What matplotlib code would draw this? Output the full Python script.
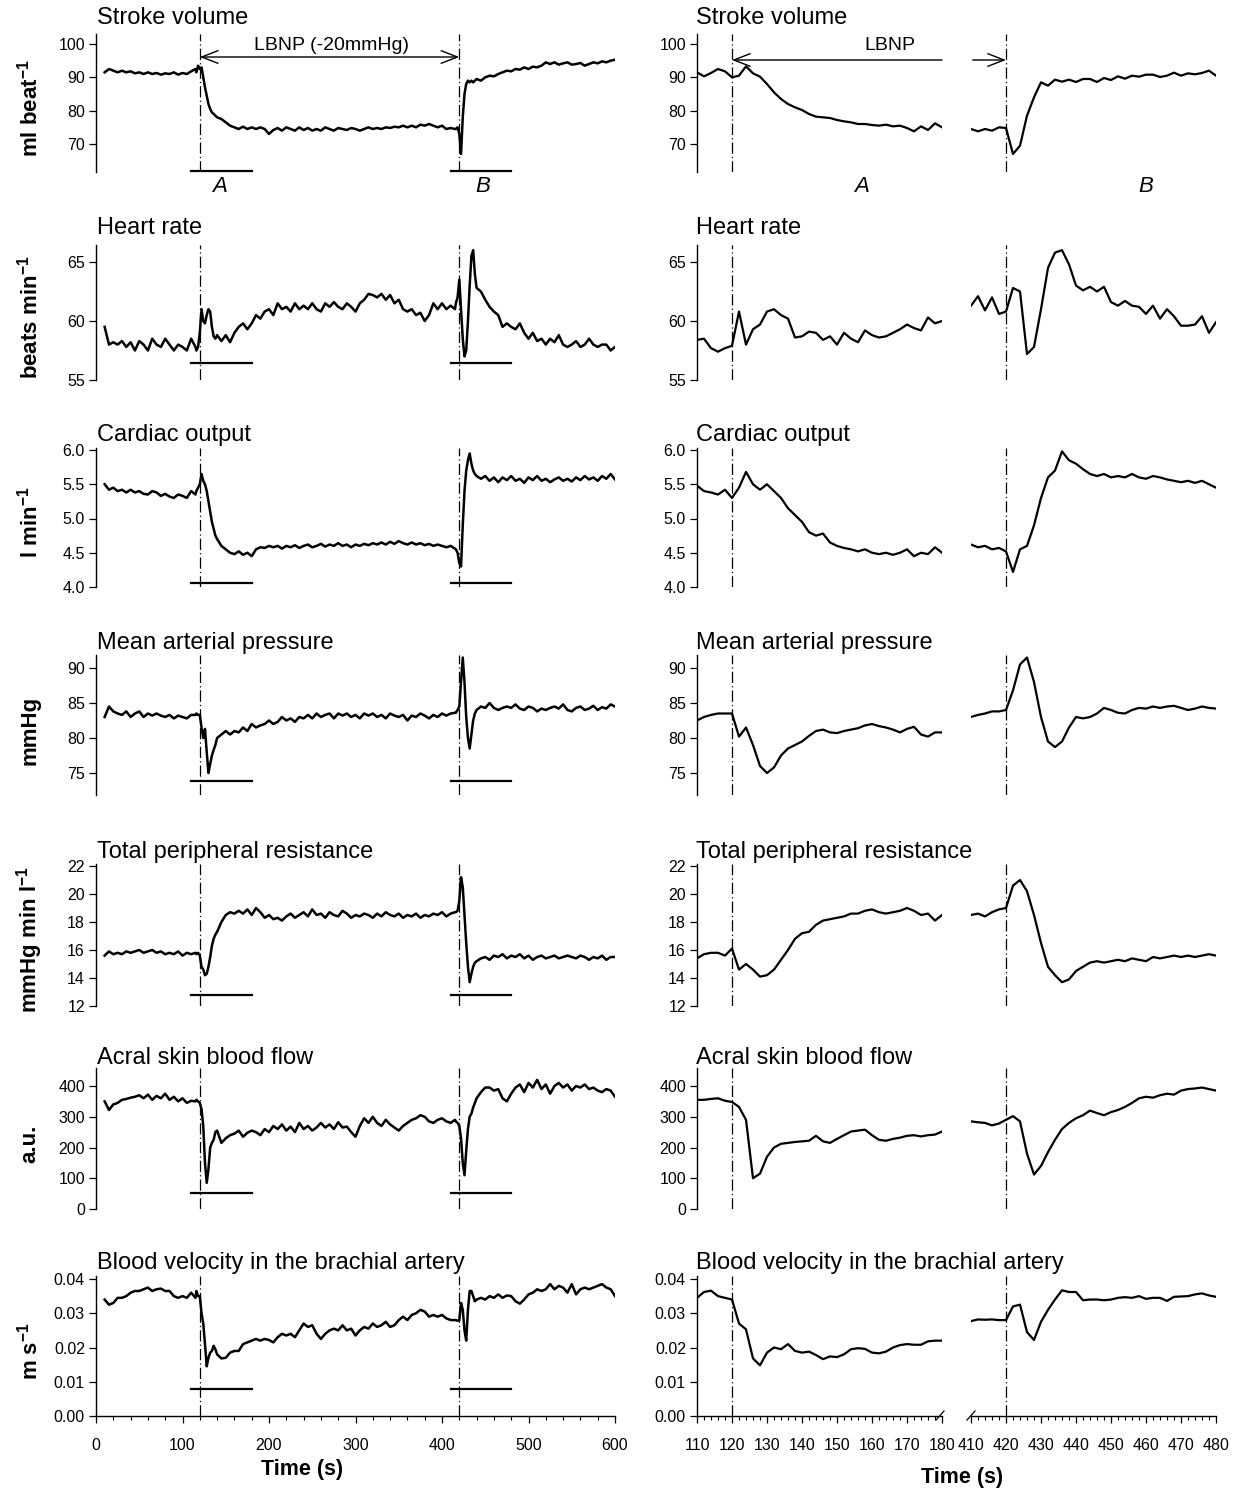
import numpy as np
import matplotlib
matplotlib.use('Agg')
import matplotlib.pyplot as plt
from matplotlib.lines import Line2D

plt.rcParams['font.family'] = ['Liberation Sans', 'DejaVu Sans']
plt.rcParams['mathtext.fontset'] = 'custom'
plt.rcParams['mathtext.rm'] = 'Liberation Sans'
plt.rcParams['mathtext.bf'] = 'Liberation Sans:bold'

# ---------------- sample times ----------------
T_LEFT = np.concatenate([np.arange(10, 116, 5), np.arange(116, 141, 2),
                         np.arange(145, 416, 5), np.arange(416, 441, 2),
                         np.arange(445, 601, 5)])
T_A = np.arange(110, 181, 2)
T_B = np.arange(410, 481, 2)

# ---------------- left column (whole protocol) ----------------
sv_left = [
    [91.5, 92.5, 92.0, 91.5, 92.0, 91.5, 91.8, 91.2, 91.5, 91.0, 91.5, 91.0, 91.3, 90.8, 91.2, 91.0, 91.5, 90.8, 91.3, 91.0, 91.8, 92.5],
    [91.5, 93.5, 92.5, 93.0, 90.0, 87.0, 84.5, 82.0, 80.5, 79.5, 79.0, 78.5, 78.0],
    [77.5, 76.5, 75.5, 75.0, 74.5, 75.2, 74.5, 75.0, 74.5, 75.0, 74.5, 73.0, 74.2, 74.8, 74.0,
     75.0, 74.5, 74.0, 75.0, 74.2, 74.8, 74.0, 74.5, 74.0, 75.0, 74.5, 74.0, 74.8, 74.5, 74.2,
     74.8, 74.5, 74.0, 74.5, 75.0, 74.5, 74.8, 74.5, 75.0, 74.8, 75.2, 75.0, 75.5, 75.0, 75.5,
     75.0, 75.8, 75.5, 76.0, 75.5, 75.0, 75.5, 74.5, 74.8, 74.5],
    [74.5, 75.0, 73.0, 67.0, 78.0, 85.0, 88.0, 89.0, 88.5, 89.0, 88.5, 89.0, 89.5],
    [89.0, 90.0, 90.5, 90.3, 91.0, 91.5, 92.0, 91.8, 92.5, 92.3, 93.0, 92.5, 93.2, 93.0, 93.5, 94.5,
     94.0, 94.5, 93.8, 94.2, 94.5, 93.8, 94.0, 94.3, 93.5, 94.0, 94.5, 94.2, 94.8, 94.5, 95.0, 95.3],
]
hr_left = [
    [59.5, 58.0, 58.2, 58.0, 58.3, 57.8, 58.2, 57.5, 58.3, 58.0, 57.5, 58.5, 58.0, 57.8, 58.5, 58.0, 57.5, 58.0, 57.8, 57.5, 58.5, 57.8],
    [57.5, 57.8, 59.0, 61.0, 60.0, 59.8, 60.5, 61.0, 60.8, 59.5, 58.7, 58.5, 58.8],
    [58.3, 58.8, 58.2, 59.0, 59.5, 59.8, 59.3, 59.8, 60.5, 60.2, 60.8, 61.0, 60.5, 61.5, 61.0,
     61.2, 60.8, 61.5, 61.0, 61.3, 61.0, 61.5, 61.0, 60.8, 61.5, 61.2, 61.6, 61.2, 61.0, 61.5,
     61.2, 60.8, 61.5, 61.8, 62.3, 62.2, 62.0, 62.3, 61.8, 62.2, 61.5, 61.8, 61.0, 60.8, 61.0,
     60.5, 60.7, 60.0, 60.5, 61.5, 61.0, 61.5, 61.0, 61.3, 61.0],
    [61.5, 62.0, 63.5, 61.0, 58.5, 57.0, 57.5, 60.0, 63.0, 65.5, 66.0, 64.0, 62.8],
    [62.5, 61.8, 61.2, 60.8, 60.5, 59.5, 59.8, 59.5, 59.3, 59.8, 59.0, 58.5, 59.0, 58.3, 58.5, 58.0,
     58.5, 58.2, 58.8, 58.0, 57.8, 58.0, 58.3, 57.8, 58.0, 58.5, 58.0, 57.8, 58.0, 58.0, 57.5, 57.8],
]
co_left = [
    [5.50, 5.42, 5.45, 5.40, 5.42, 5.38, 5.42, 5.38, 5.40, 5.36, 5.35, 5.40, 5.38, 5.33, 5.36, 5.32, 5.30, 5.35, 5.33, 5.30, 5.40, 5.35],
    [5.40, 5.45, 5.50, 5.65, 5.55, 5.50, 5.40, 5.25, 5.10, 4.95, 4.85, 4.75, 4.70],
    [4.60, 4.55, 4.50, 4.48, 4.52, 4.47, 4.50, 4.45, 4.55, 4.58, 4.57, 4.60, 4.58, 4.60, 4.56,
     4.60, 4.58, 4.61, 4.57, 4.60, 4.62, 4.58, 4.60, 4.63, 4.59, 4.62, 4.60, 4.64, 4.60, 4.62,
     4.58, 4.62, 4.60, 4.63, 4.61, 4.64, 4.62, 4.65, 4.62, 4.66, 4.63, 4.67, 4.64, 4.62, 4.65,
     4.62, 4.64, 4.61, 4.63, 4.60, 4.62, 4.60, 4.58, 4.60, 4.56],
    [4.55, 4.50, 4.35, 4.30, 4.90, 5.40, 5.70, 5.85, 5.95, 5.80, 5.70, 5.65, 5.62],
    [5.58, 5.62, 5.55, 5.60, 5.53, 5.60, 5.56, 5.62, 5.55, 5.58, 5.52, 5.60, 5.56, 5.62, 5.55, 5.58,
     5.53, 5.57, 5.60, 5.55, 5.58, 5.54, 5.60, 5.56, 5.62, 5.57, 5.60, 5.55, 5.62, 5.58, 5.65, 5.57],
]
map_left = [
    [83.0, 84.5, 83.8, 83.5, 83.3, 83.8, 83.0, 83.5, 83.8, 83.0, 83.5, 83.2, 83.5, 83.2, 83.0, 83.3, 82.8, 83.2, 83.0, 82.8, 83.3, 83.3],
    [83.5, 83.3, 83.3, 81.5, 80.0, 81.3, 78.0, 75.0, 76.3, 77.5, 78.3, 79.0, 80.0],
    [80.5, 81.0, 80.5, 81.0, 80.8, 81.5, 81.0, 82.0, 81.5, 81.8, 82.0, 82.5, 82.0, 82.3, 83.0,
     82.5, 82.8, 82.3, 83.0, 82.8, 83.3, 82.8, 83.5, 83.0, 83.3, 83.5, 82.8, 83.5, 83.2, 83.5,
     83.0, 83.3, 82.8, 83.5, 83.2, 83.5, 83.0, 83.3, 82.8, 83.5, 83.2, 83.0, 83.3, 82.5, 83.2,
     83.0, 83.5, 83.2, 82.8, 83.3, 83.0, 83.5, 83.2, 83.5, 83.6],
    [83.6, 84.0, 84.5, 88.0, 91.5, 88.0, 83.0, 80.0, 78.5, 80.5, 82.5, 83.5, 84.0],
    [84.5, 84.3, 85.0, 84.3, 84.0, 84.3, 84.5, 84.3, 84.8, 84.2, 84.0, 84.5, 84.3, 83.8, 84.2, 84.0,
     84.3, 84.5, 84.2, 84.8, 84.0, 83.8, 84.3, 84.5, 84.0, 84.2, 84.6, 84.0, 84.4, 84.2, 84.8, 84.5],
]
tpr_left = [
    [15.6, 15.9, 15.7, 15.8, 15.7, 15.9, 15.8, 15.9, 16.0, 15.8, 15.9, 16.0, 15.8, 15.9, 15.7, 15.8, 15.7, 15.9, 15.6, 15.8, 15.7, 15.8],
    [15.7, 15.8, 15.6, 14.8, 14.6, 14.2, 14.3, 14.8, 15.5, 16.3, 16.8, 17.1, 17.3],
    [18.0, 18.5, 18.7, 18.6, 18.8, 18.6, 18.9, 18.5, 19.0, 18.7, 18.3, 18.5, 18.2, 18.3, 18.1,
     18.4, 18.6, 18.3, 18.5, 18.7, 18.4, 18.9, 18.5, 18.6, 18.3, 18.7, 18.5, 18.4, 18.8, 18.6,
     18.3, 18.5, 18.4, 18.6, 18.5, 18.3, 18.6, 18.4, 18.7, 18.5, 18.4, 18.6, 18.3, 18.5, 18.4,
     18.6, 18.3, 18.5, 18.4, 18.6, 18.5, 18.7, 18.4, 18.6, 18.7],
    [18.7, 18.8, 19.5, 21.2, 20.5, 18.5, 16.5, 14.8, 13.7, 14.3, 14.8, 15.1, 15.2],
    [15.4, 15.5, 15.3, 15.6, 15.5, 15.7, 15.4, 15.6, 15.5, 15.7, 15.4, 15.6, 15.3, 15.5, 15.6, 15.4,
     15.5, 15.6, 15.4, 15.5, 15.6, 15.5, 15.4, 15.6, 15.5, 15.3, 15.5, 15.4, 15.6, 15.3, 15.5, 15.5],
]
asbf_left = [
    [350, 322, 340, 345, 355, 358, 362, 365, 370, 360, 372, 355, 368, 360, 375, 355, 365, 350, 360, 345, 352, 350],
    [355, 350, 345, 325, 270, 150, 85, 130, 200, 215, 225, 250, 255],
    [215, 230, 240, 245, 255, 235, 248, 255, 250, 240, 260, 250, 270, 260, 275,
     255, 268, 250, 280, 260, 270, 255, 265, 280, 265, 275, 260, 282, 265, 268,
     250, 235, 270, 295, 280, 300, 280, 270, 290, 275, 265, 255, 270, 280, 290,
     295, 305, 300, 285, 280, 290, 295, 285, 280, 290],
    [285, 280, 270, 230, 150, 110, 190, 260, 300, 310, 330, 345, 360],
    [380, 395, 395, 385, 390, 360, 350, 375, 395, 405, 380, 410, 395, 420, 390, 405,
     375, 400, 410, 395, 405, 385, 400, 395, 405, 390, 395, 385, 380, 390, 385, 365],
]
vel_left = [
    [0.0340, 0.0325, 0.0330, 0.0345, 0.0345, 0.0350, 0.0360, 0.0365, 0.0365, 0.0370, 0.0375,
     0.0365, 0.0370, 0.0372, 0.0365, 0.0365, 0.0350, 0.0345, 0.0350, 0.0345, 0.0360, 0.0345],
    [0.0365, 0.0350, 0.0350, 0.0300, 0.0270, 0.0210, 0.0145, 0.0170, 0.0185, 0.0190, 0.0205, 0.0195, 0.0180],
    [0.0168, 0.0170, 0.0185, 0.0190, 0.0190, 0.0210, 0.0215, 0.0220, 0.0225, 0.0220, 0.0225,
     0.0222, 0.0215, 0.0230, 0.0240, 0.0235, 0.0240, 0.0230, 0.0250, 0.0270, 0.0260, 0.0265,
     0.0240, 0.0225, 0.0240, 0.0250, 0.0255, 0.0250, 0.0265, 0.0250, 0.0255, 0.0235, 0.0250,
     0.0260, 0.0255, 0.0270, 0.0260, 0.0265, 0.0275, 0.0260, 0.0265, 0.0280, 0.0290, 0.0280,
     0.0295, 0.0300, 0.0310, 0.0305, 0.0290, 0.0295, 0.0290, 0.0295, 0.0285, 0.0280, 0.0280],
    [0.0280, 0.0278, 0.0280, 0.0330, 0.0310, 0.0250, 0.0220, 0.0310, 0.0365, 0.0365, 0.0350, 0.0335, 0.0340],
    [0.0345, 0.0340, 0.0350, 0.0345, 0.0355, 0.0345, 0.0352, 0.0350, 0.0335, 0.0328, 0.0340,
     0.0355, 0.0360, 0.0370, 0.0365, 0.0370, 0.0385, 0.0370, 0.0380, 0.0375, 0.0360, 0.0385,
     0.0355, 0.0370, 0.0375, 0.0370, 0.0375, 0.0380, 0.0385, 0.0375, 0.0370, 0.0350],
]

# ---------------- right column (zoom on onset A and release B) ----------------
sv_a = [91.5, 90.3, 91.3, 92.5, 91.8, 90.0, 90.5, 93.3, 91.2, 90.2, 88.0, 85.5, 83.5, 82.0, 81.0, 80.2, 79.0, 78.2,
        78.0, 77.8, 77.2, 76.8, 76.5, 76.0, 76.0, 75.7, 75.5, 75.8, 75.3, 75.5, 74.8, 73.8, 75.3, 74.2, 76.2, 75.0]
sv_b = [74.5, 73.8, 74.5, 74.0, 75.0, 74.8, 67.0, 69.5, 78.5, 84.0, 88.5, 87.5, 89.3, 88.7, 89.3, 88.6, 89.5, 89.5,
        88.6, 89.8, 89.2, 90.3, 89.6, 90.5, 90.2, 90.8, 90.8, 90.1, 90.5, 91.4, 90.5, 91.2, 90.9, 91.3, 92.0, 90.5]
hr_a = [58.4, 58.5, 57.7, 57.4, 57.7, 57.9, 60.8, 58.0, 59.3, 59.7, 60.8, 61.0, 60.5, 60.2, 58.6, 58.7, 59.1, 59.0,
        58.4, 58.7, 58.0, 59.0, 58.5, 58.2, 59.2, 58.8, 58.6, 58.7, 59.0, 59.3, 59.7, 59.4, 59.2, 60.3, 59.8, 60.0]
hr_b = [61.3, 62.1, 60.9, 62.0, 60.6, 60.8, 62.8, 62.5, 57.2, 57.8, 61.0, 64.5, 65.8, 66.0, 64.8, 63.0, 62.6, 62.9,
        62.5, 62.9, 61.6, 61.3, 61.7, 61.3, 61.2, 60.6, 61.3, 60.2, 61.0, 60.4, 59.6, 59.6, 59.7, 60.4, 59.0, 59.9]
co_a = [5.48, 5.40, 5.38, 5.35, 5.42, 5.30, 5.45, 5.68, 5.50, 5.42, 5.50, 5.40, 5.30, 5.15, 5.05, 4.95, 4.80, 4.75,
        4.78, 4.65, 4.60, 4.57, 4.55, 4.52, 4.55, 4.50, 4.48, 4.50, 4.47, 4.50, 4.55, 4.45, 4.50, 4.48, 4.58, 4.50]
co_b = [4.62, 4.58, 4.60, 4.55, 4.57, 4.52, 4.22, 4.55, 4.60, 4.90, 5.30, 5.60, 5.70, 5.98, 5.85, 5.80, 5.72, 5.65,
        5.62, 5.65, 5.60, 5.62, 5.60, 5.65, 5.60, 5.58, 5.62, 5.60, 5.57, 5.55, 5.53, 5.55, 5.52, 5.55, 5.50, 5.45]
map_a = [82.5, 83.0, 83.3, 83.5, 83.5, 83.5, 80.2, 81.5, 79.0, 76.0, 75.0, 75.8, 77.5, 78.5, 79.0, 79.5, 80.3, 81.0,
         81.2, 80.8, 80.7, 81.0, 81.2, 81.4, 81.8, 82.0, 81.7, 81.5, 81.2, 80.8, 81.3, 81.6, 80.5, 80.2, 80.8, 80.8]
map_b = [83.0, 83.3, 83.5, 83.8, 83.8, 84.0, 86.8, 90.5, 91.5, 88.0, 83.0, 79.5, 78.7, 79.5, 81.5, 83.0, 82.8, 83.0,
         83.5, 84.3, 84.0, 83.6, 83.5, 84.0, 84.3, 84.2, 84.5, 84.3, 84.5, 84.6, 84.3, 84.0, 84.2, 84.5, 84.3, 84.2]
tpr_a = [15.4, 15.7, 15.8, 15.8, 15.6, 16.1, 14.6, 15.0, 14.6, 14.1, 14.2, 14.6, 15.3, 16.0, 16.8, 17.2, 17.3, 17.8,
         18.1, 18.2, 18.3, 18.4, 18.6, 18.6, 18.8, 18.9, 18.7, 18.6, 18.7, 18.8, 19.0, 18.8, 18.5, 18.6, 18.1, 18.5]
tpr_b = [18.5, 18.6, 18.4, 18.7, 18.9, 19.0, 20.6, 21.0, 20.2, 18.5, 16.5, 14.8, 14.2, 13.7, 13.9, 14.5, 14.8, 15.1,
         15.2, 15.1, 15.2, 15.3, 15.2, 15.4, 15.3, 15.2, 15.5, 15.4, 15.5, 15.6, 15.5, 15.6, 15.5, 15.6, 15.7, 15.6]
asbf_a = [355, 355, 358, 360, 352, 348, 332, 290, 100, 115, 170, 200, 212, 215, 218, 220, 222, 238,
          220, 215, 228, 240, 252, 255, 258, 240, 225, 222, 228, 232, 238, 240, 236, 240, 242, 252]
asbf_b = [285, 282, 280, 272, 278, 290, 302, 285, 180, 112, 140, 185, 225, 260, 280, 295, 305, 320,
          312, 305, 315, 322, 332, 345, 360, 365, 362, 370, 375, 372, 385, 390, 392, 395, 390, 385]
vel_a = [0.0345, 0.0362, 0.0366, 0.0350, 0.0345, 0.0340, 0.0270, 0.0253, 0.0168, 0.0148, 0.0185, 0.0200,
         0.0195, 0.0210, 0.0190, 0.0185, 0.0188, 0.0178, 0.0166, 0.0174, 0.0172, 0.0180, 0.0195, 0.0198,
         0.0196, 0.0185, 0.0183, 0.0188, 0.0200, 0.0207, 0.0210, 0.0208, 0.0208, 0.0218, 0.0220, 0.0220]
vel_b = [0.0277, 0.0282, 0.0281, 0.0282, 0.0280, 0.0280, 0.0320, 0.0325, 0.0245, 0.0222, 0.0275, 0.0310,
         0.0340, 0.0367, 0.0362, 0.0362, 0.0338, 0.0340, 0.0340, 0.0338, 0.0340, 0.0345, 0.0347, 0.0345,
         0.0350, 0.0342, 0.0345, 0.0345, 0.0336, 0.0348, 0.0349, 0.0350, 0.0355, 0.0358, 0.0352, 0.0348]

titles = ['Stroke volume', 'Heart rate', 'Cardiac output', 'Mean arterial pressure',
          'Total peripheral resistance', 'Acral skin blood flow', 'Blood velocity in the brachial artery']
ylabels = [r'ml beat$^{\mathbf{-1}}$', r'beats min$^{\mathbf{-1}}$', r'l min$^{\mathbf{-1}}$', 'mmHg',
           r'mmHg min l$^{\mathbf{-1}}$', 'a.u.', r'm s$^{\mathbf{-1}}$']
yticks = [[70, 80, 90, 100], [55, 60, 65], [4.0, 4.5, 5.0, 5.5, 6.0], [75, 80, 85, 90],
          [12, 14, 16, 18, 20, 22], [0, 100, 200, 300, 400], [0.00, 0.01, 0.02, 0.03, 0.04]]
yfmt = ['{:.0f}', '{:.0f}', '{:.1f}', '{:.0f}', '{:.0f}', '{:.0f}', '{:.2f}']
left_series = [sv_left, hr_left, co_left, map_left, tpr_left, asbf_left, vel_left]
a_series = [sv_a, hr_a, co_a, map_a, tpr_a, asbf_a, vel_a]
b_series = [sv_b, hr_b, co_b, map_b, tpr_b, asbf_b, vel_b]

# ---------------- layout (pixels) ----------------
W, H = 1238, 1491
# title_y, spine_top, spine_bottom, (val_a, px_a), (val_b, px_b), bar_px
layout = [
    (18, 34, 172, (100, 44), (70, 144), 171),
    (228, 245, 380, (65, 262), (55, 380), 363),
    (435, 448, 587, (6.0, 450), (4.0, 587), 583),
    (643, 655, 795, (90, 668), (75, 773), 781),
    (852, 864, 1006, (22, 866), (12, 1006), 995),
    (1058, 1068, 1209, (400, 1086), (0, 1209), 1193),
    (1263, 1276, 1416, (0.04, 1279), (0.0, 1416), 1389),
]
LX0, LX1 = 96, 615
AX0, AX1 = 697, 942
BX0, BX1 = 971, 1216

fig = plt.figure(figsize=(W / 100, H / 100), dpi=100)


def add_ax(x0, x1, top, bottom):
    return fig.add_axes([x0 / W, 1 - bottom / H, (x1 - x0) / W, (bottom - top) / H])


LW_L = 1.8
LW_R = 1.6
DASH = dict(color='k', lw=0.9, ls=(0, (9, 2.5, 1, 2.5)))
TICKFS = 11.5
TITLEFS = 17
ARROW = dict(lw=1.0, color='k', shrinkA=0, shrinkB=0, mutation_scale=13)

for i in range(7):
    ty, top, bot, (va, pa), (vb, pb), barpx = layout[i]
    k = (pb - pa) / (va - vb)
    ymax = va + (pa - top) / k
    ymin = vb - (bot - pb) / k
    ybar = vb - (barpx - pb) / k
    last = (i == 6)

    axL = add_ax(LX0, LX1, top, bot)
    axA = add_ax(AX0, AX1, top, bot)
    axB = add_ax(BX0, BX1, top, bot)
    for ax in (axL, axA, axB):
        ax.patch.set_alpha(0)
        for s in ('top', 'right'):
            ax.spines[s].set_visible(False)
        ax.spines['bottom'].set_visible(last)
        if not last:
            ax.set_xticks([])
        ax.set_ylim(ymin, ymax)
        ax.spines['left'].set_linewidth(1.0)
        ax.spines['bottom'].set_linewidth(1.0)
        ax.tick_params(axis='both', labelsize=TICKFS, direction='out', length=5, width=0.9, pad=3)
    axB.spines['left'].set_visible(False)
    axB.set_yticks([])
    for ax in (axL, axA):
        ax.set_yticks(yticks[i])
        ax.set_yticklabels([yfmt[i].format(v) for v in yticks[i]])

    axL.set_xlim(0, 600)
    axA.set_xlim(110, 180)
    axB.set_xlim(410, 480)

    # traces
    vals = np.concatenate([np.asarray(s, float) for s in left_series[i]])
    n = min(len(vals), len(T_LEFT))
    axL.plot(T_LEFT[:n], vals[:n], color='k', lw=LW_L, solid_joinstyle='round')
    axA.plot(T_A, a_series[i], color='k', lw=LW_R, solid_joinstyle='round')
    axB.plot(T_B, b_series[i], color='k', lw=LW_R, solid_joinstyle='round')

    # onset / release markers
    axL.axvline(120, **DASH)
    axL.axvline(420, **DASH)
    axA.axvline(120, **DASH)
    axB.axvline(420, **DASH)
    axL.plot([110, 180], [ybar, ybar], color='k', lw=1.6, clip_on=False)
    axL.plot([410, 480], [ybar, ybar], color='k', lw=1.6, clip_on=False)

    # titles and y labels
    fig.text((LX0 + 1) / W, 1 - ty / H, titles[i], fontsize=TITLEFS, va='center', ha='left')
    fig.text((AX0 - 1) / W, 1 - ty / H, titles[i], fontsize=TITLEFS, va='center', ha='left')
    fig.text(30 / W, 1 - ((top + bot) / 2 + 5) / H, ylabels[i], rotation=90, fontsize=16,
             fontweight='bold', va='center', ha='center')

    if i == 0:
        yarr = va - (57 - pa) / k
        axL.annotate('', xy=(120, yarr), xytext=(420, yarr),
                     arrowprops=dict(arrowstyle='<->,head_length=0.9,head_width=0.35', **ARROW))
        axL.text(272, va - (45 - pa) / k, 'LBNP (-20mmHg)', fontsize=14, ha='center', va='center')
        yarr_r = va - (60 - pa) / k
        axA.annotate('', xy=(120, yarr_r), xytext=(180, yarr_r),
                     arrowprops=dict(arrowstyle='->,head_length=0.9,head_width=0.35', **ARROW),
                     annotation_clip=False)
        axB.annotate('', xy=(420, yarr_r), xytext=(410.5, yarr_r),
                     arrowprops=dict(arrowstyle='->,head_length=0.9,head_width=0.35', **ARROW),
                     annotation_clip=False)
        axA.text(165, va - (46 - pa) / k, 'LBNP', fontsize=14, ha='center', va='center')
        ylab = va - (186 - pa) / k
        axL.text(143, ylab, 'A', fontsize=16, style='italic', ha='center', va='center', clip_on=False)
        axL.text(447, ylab, 'B', fontsize=16, style='italic', ha='center', va='center', clip_on=False)
        axA.text(157, ylab, 'A', fontsize=16, style='italic', ha='center', va='center', clip_on=False)
        axB.text(460, ylab, 'B', fontsize=16, style='italic', ha='center', va='center', clip_on=False)

    if last:
        axL.set_xticks(np.arange(0, 601, 100))
        axL.set_xticks(np.arange(0, 601, 20), minor=True)
        axA.set_xticks(np.arange(110, 181, 10))
        axA.set_xticks(np.arange(110, 181, 2), minor=True)
        axB.set_xticks(np.arange(410, 481, 10))
        axB.set_xticks(np.arange(410, 481, 2), minor=True)
        for ax in (axL, axA, axB):
            ax.tick_params(axis='x', which='major', length=5, width=0.9, labelsize=TICKFS, pad=11)
            ax.tick_params(axis='x', which='minor', length=3, width=0.8)
        fig.text(302 / W, 1 - 1469 / H, 'Time (s)', fontsize=15.5, fontweight='bold', ha='center', va='center')
        fig.text(962 / W, 1 - 1477 / H, 'Time (s)', fontsize=15.5, fontweight='bold', ha='center', va='center')
        # axis break marks
        for (x0, x1) in ((936, 944), (967, 975)):
            fig.add_artist(Line2D([x0 / W, x1 / W], [1 - (bot + 4) / H, 1 - (bot - 5) / H],
                                  color='k', lw=0.9, transform=fig.transFigure))

fig.savefig('out.png', dpi=100)
